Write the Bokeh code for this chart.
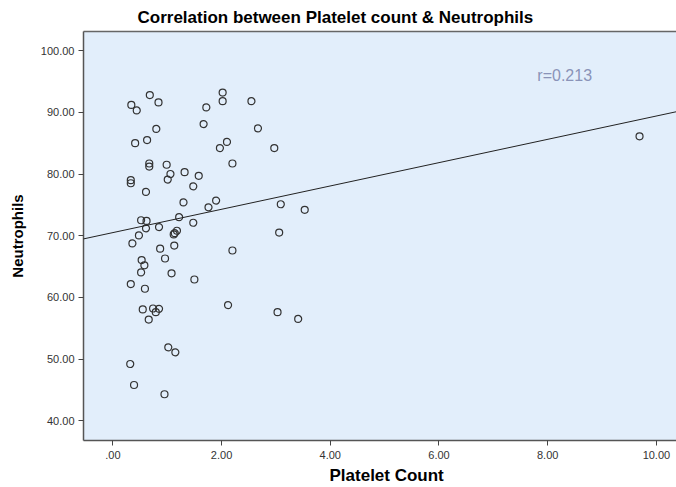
from bokeh.plotting import figure
from bokeh.models import (ColumnDataSource, FixedTicker, LinearAxis, Range1d,
                          Title, Label, Slope)
from bokeh.embed import file_html
from bokeh.resources import INLINE

# ---- data ----
platelet = [0.34, 0.44, 0.68, 0.84, 2.02, 2.02, 2.55, 1.72, 1.67, 0.80,
            2.67, 0.41, 0.63, 2.10, 1.97, 2.97, 2.20, 0.67, 0.67, 0.99,
            1.32, 1.06, 1.01, 1.58, 0.33, 0.33, 1.48, 0.61, 1.30, 1.90,
            1.76, 3.09, 3.53, 0.52, 0.62, 1.22, 1.48, 0.61, 0.85, 0.48,
            1.14, 1.18, 1.12, 0.36, 0.87, 1.13, 2.20, 3.06, 0.53, 0.58,
            0.96, 0.52, 1.08, 1.50, 0.33, 0.59, 0.55, 0.74, 0.85, 0.79,
            0.66, 2.12, 3.03, 3.41, 1.02, 1.15, 0.32, 0.39, 0.95, 9.69]
neutrophils = [91.2, 90.3, 92.8, 91.6, 93.2, 91.8, 91.8, 90.8, 88.1, 87.3,
               87.4, 85.0, 85.5, 85.2, 84.2, 84.2, 81.7, 81.7, 81.2, 81.5,
               80.3, 80.0, 79.1, 79.7, 79.0, 78.5, 78.0, 77.1, 75.4, 75.7,
               74.6, 75.1, 74.2, 72.5, 72.4, 73.0, 72.1, 71.2, 71.4, 70.05,
               70.4, 70.8, 70.2, 68.75, 67.9, 68.4, 67.6, 70.5, 66.05, 65.2,
               66.3, 64.05, 63.9, 62.9, 62.15, 61.4, 58.05, 58.2, 58.15, 57.6,
               56.4, 58.75, 57.6, 56.5, 51.9, 51.1, 49.2, 45.8, 44.3, 86.1]

fit_intercept = 70.5
fit_slope = 1.89
r_text = "r=0.213"

x_ticks = [0, 2, 4, 6, 8, 10]
x_tick_labels = [".00", "2.00", "4.00", "6.00", "8.00", "10.00"]
y_ticks = [40, 50, 60, 70, 80, 90, 100]
y_tick_labels = ["40.00", "50.00", "60.00", "70.00", "80.00", "90.00", "100.00"]

title_text = "Correlation between Platelet count & Neutrophils"
x_label = "Platelet Count"
y_label = "Neutrophils"

FONT = "Liberation Sans"

p = figure(width=676, height=487, output_backend="svg", toolbar_location=None,
           x_range=Range1d(-0.54, 10.37), y_range=Range1d(36.8, 103.1),
           min_border_left=83, min_border_right=0, min_border_top=31,
           min_border_bottom=47, x_axis_label=None, y_axis_label=y_label)

p.background_fill_color = "#e2eefb"
p.border_fill_color = "white"
p.outline_line_color = None
p.grid.visible = False

for ax, ticks, labels in ((p.xaxis[0], x_ticks, x_tick_labels),
                          (p.yaxis[0], y_ticks, y_tick_labels)):
    ax.ticker = FixedTicker(ticks=ticks)
    ax.major_label_overrides = {t: l for t, l in zip(ticks, labels)}
    ax.minor_tick_line_color = None
    ax.major_tick_in = 0
    ax.major_tick_out = 5
    ax.major_tick_line_color = "#444444"
    ax.axis_line_color = "#555555"
    ax.axis_line_width = 1.5
    ax.major_label_text_font = FONT
    ax.major_label_text_font_size = "11px"
    ax.major_label_text_color = "#333333"

p.xaxis.major_label_standoff = 5

p.yaxis.axis_label_text_font = FONT
p.yaxis.axis_label_text_font_style = "bold"
p.yaxis.axis_label_text_font_size = "15px"
p.yaxis.axis_label_text_color = "black"
p.yaxis.axis_label_standoff = 12
p.yaxis.major_label_standoff = 4

# top border line of the frame
top = LinearAxis(ticker=FixedTicker(ticks=[]), major_label_text_font_size="0px",
                 axis_line_color="#666666", axis_line_width=1.5,
                 major_tick_line_color=None, minor_tick_line_color=None)
p.add_layout(top, "above")

p.add_layout(Title(text=title_text, align="left", offset=54,
                   text_font=FONT, text_font_style="bold",
                   text_font_size="17px", text_color="black"), "above")

p.add_layout(Title(text=x_label, align="left", offset=246, standoff=5,
                   text_font=FONT, text_font_style="bold",
                   text_font_size="17px", text_color="black"), "below")

p.add_layout(Slope(gradient=fit_slope, y_intercept=fit_intercept,
                   line_color="#222222", line_width=1))

src = ColumnDataSource(data=dict(x=platelet, y=neutrophils))
p.scatter("x", "y", source=src, marker="circle", size=7, fill_color=None,
          line_color="#333333", line_width=1.2)

p.add_layout(Label(x=7.81, y=95.9, text=r_text, text_font=FONT,
                   text_font_size="16px", text_color="#8a93b8",
                   text_baseline="middle", text_align="left"))

open("out.html", "w").write(file_html(p, INLINE))
